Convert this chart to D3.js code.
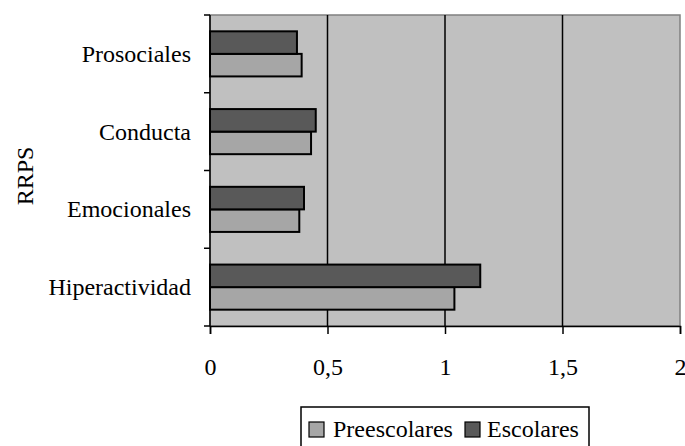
<!DOCTYPE html>
<html><head><meta charset="utf-8">
<script src="https://cdn.jsdelivr.net/npm/d3@7"></script>
<style>body{margin:0;background:#fff}svg{display:block}</style>
</head><body>
<svg id="c" width="685" height="446"></svg>
<script>
const categories = ["Prosociales","Conducta","Emocionales","Hiperactividad"];
const escolares = [0.37, 0.45, 0.40, 1.15];
const preescolares = [0.39, 0.43, 0.38, 1.04];
const xTicks = [0, 0.5, 1, 1.5, 2];
const xTickLabels = ["0","0,5","1","1,5","2"];
const seriesNames = ["Preescolares","Escolares"];

const svg = d3.select("#c");
const FONT = '"Liberation Serif","Times New Roman",serif';
const fs = "24px";
const L = 210, R = 680, T = 15, B = 326;
const x = d3.scaleLinear().domain([0,2]).range([L,R]);
const y = d3.scaleBand().domain(categories).range([T,B]).paddingInner(0.42).paddingOuter(0.21);
const sub = d3.scaleBand().domain(["Escolares","Preescolares"]).range([0,y.bandwidth()]);

svg.append("rect").attr("x",L).attr("y",T).attr("width",R-L).attr("height",B-T)
  .attr("fill","#c0c0c0").attr("stroke","#808080").attr("stroke-width",1.5);

svg.append("g").selectAll("line").data(xTicks.slice(1,-1)).join("line")
  .attr("x1",d=>x(d)).attr("x2",d=>x(d)).attr("y1",T).attr("y2",B)
  .attr("stroke","#000").attr("stroke-width",1.5);

const rows = categories.map((c,i)=>({c, e:escolares[i], p:preescolares[i]}));
const g = svg.append("g");
g.selectAll("rect.p").data(rows).join("rect").attr("class","p")
  .attr("x",x(0)).attr("y",d=>y(d.c)+sub("Preescolares"))
  .attr("width",d=>x(d.p)-x(0)).attr("height",sub.bandwidth())
  .attr("fill","#a6a6a6").attr("stroke","#000").attr("stroke-width",2);
g.selectAll("rect.e").data(rows).join("rect").attr("class","e")
  .attr("x",x(0)).attr("y",d=>y(d.c)+sub("Escolares"))
  .attr("width",d=>x(d.e)-x(0)).attr("height",sub.bandwidth())
  .attr("fill","#595959").attr("stroke","#000").attr("stroke-width",2);

// y axis
const yAxis = svg.append("g");
yAxis.append("line").attr("x1",L).attr("x2",L).attr("y1",T).attr("y2",B).attr("stroke","#000").attr("stroke-width",1.5);
const step = (B-T)/categories.length;
yAxis.selectAll("line.t").data(d3.range(categories.length+1)).join("line").attr("class","t")
  .attr("x1",L-6).attr("x2",L).attr("y1",i=>T+i*step).attr("y2",i=>T+i*step)
  .attr("stroke","#000").attr("stroke-width",1.5);
yAxis.selectAll("text").data(categories).join("text")
  .attr("x",191).attr("y",d=>y(d)+y.bandwidth()/2).attr("dy","0.33em")
  .attr("text-anchor","end").style("font-family",FONT).style("font-size",fs).text(d=>d);

// x axis
const xAxis = svg.append("g").attr("transform",`translate(0,${B})`)
  .call(d3.axisBottom(x).tickValues(xTicks).tickFormat((d,i)=>xTickLabels[i]).tickSize(8).tickPadding(24));
xAxis.select(".domain").attr("stroke","#000").attr("stroke-width",1.5);
xAxis.selectAll(".tick line").attr("stroke","#000").attr("stroke-width",1.5);
xAxis.selectAll("text").style("font-family",FONT).style("font-size",fs).attr("fill","#000");

svg.append("text").attr("transform","translate(33,176) rotate(-90)")
  .attr("text-anchor","middle").style("font-family",FONT).style("font-size",fs).text("RRPS");

// legend
const lg = svg.append("g");
lg.append("rect").attr("x",301).attr("y",407).attr("width",288).attr("height",45)
  .attr("fill","#fff").attr("stroke","#000").attr("stroke-width",1.5);
const items = [{n:seriesNames[0],c:"#a6a6a6",x:309,t:333},{n:seriesNames[1],c:"#595959",x:465,t:487}];
items.forEach(it=>{
  lg.append("rect").attr("x",it.x).attr("y",422).attr("width",15).attr("height",15)
    .attr("fill",it.c).attr("stroke","#000").attr("stroke-width",1.2);
  lg.append("text").attr("x",it.t).attr("y",437)
    .style("font-family",FONT).style("font-size",fs).text(it.n);
});
</script>
</body></html>
